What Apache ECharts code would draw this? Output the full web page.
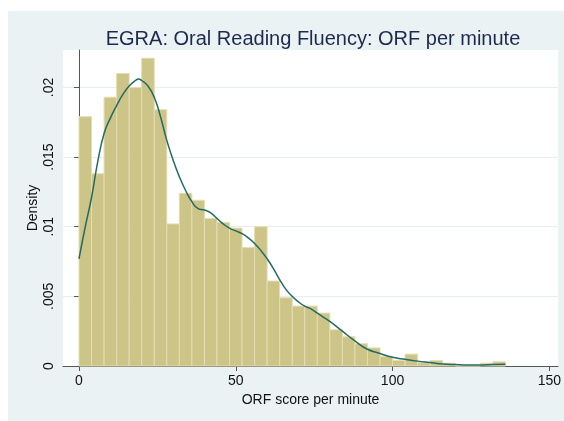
<!DOCTYPE html>
<html>
<head>
<meta charset="utf-8">
<style>
  html, body { margin: 0; padding: 0; background: #fff; }
  #chart { width: 564px; height: 421px; }
</style>
<script src="https://cdn.jsdelivr.net/npm/echarts@6/dist/echarts.min.js"></script>
</head>
<body>
<div id="chart"></div>
<script>
// histogram: bins of width 4 starting at 0
var binWidth = 4;
var binDensity = [0.0179, 0.0138, 0.0193, 0.0210, 0.0200, 0.0221, 0.0184, 0.0102, 0.0124, 0.0119,
  0.0106, 0.0103, 0.0099, 0.0085, 0.0100, 0.0061, 0.0049, 0.0043, 0.0043, 0.0038,
  0.0026, 0.0021, 0.0016, 0.0013, 0.0007, 0.0004, 0.00085, 0.00024, 0.0004, 0.0002,
  0, 0, 0.0002, 0.0003];

// kernel density curve
var kdX = [0, 2, 4, 6, 8, 10, 12, 14, 16, 18, 19, 20, 22, 24, 26, 28, 30, 32, 34, 36, 38, 40,
  42, 44, 46, 48, 50, 52, 54, 56, 58, 60, 62, 64, 66, 68, 70, 72, 74, 76, 78, 80,
  84, 88, 92, 96, 100, 104, 108, 112, 116, 120, 124, 128, 132, 136];
var kdY = [0.0077, 0.0100, 0.0121, 0.0147, 0.0167, 0.0178, 0.0187, 0.0195, 0.0201, 0.0205, 0.0206, 0.0205,
  0.0201, 0.0193, 0.0179, 0.0162, 0.0148, 0.0136, 0.0126, 0.0118, 0.0113, 0.0112,
  0.0110, 0.0106, 0.0102, 0.0099, 0.0097, 0.0095, 0.0092, 0.0088, 0.0083, 0.0077,
  0.0070, 0.0062, 0.0055, 0.0050, 0.0046, 0.0043, 0.0041, 0.0038, 0.0035, 0.0032,
  0.0025, 0.0018, 0.0012, 0.0009, 0.00063, 0.00048, 0.00035, 0.00025, 0.00015, 0.0001,
  0.00007, 0.00007, 0.0001, 0.00012];

var xTicks = [0, 50, 100, 150];
var yTicks = [0, 0.005, 0.01, 0.015, 0.02];
var yTickLabels = ['0', '.005', '.01', '.015', '.02'];

var bars = binDensity.map(function (d, i) {
  return [i * binWidth, (i + 1) * binWidth, d];
});
var curve = kdX.map(function (x, i) { return [x, kdY[i]]; });

var font = 'Liberation Sans, Arial, sans-serif';
var myChart = echarts.init(document.getElementById('chart'));
var option = {
  backgroundColor: '#ffffff',
  animation: false,
  graphic: {
    elements: [{
      type: 'rect', z: -10, silent: true,
      shape: { x: 8, y: 11, width: 556, height: 410 },
      style: { fill: '#eaf2f3' }
    }]
  },
  title: {
    text: 'EGRA: Oral Reading Fluency: ORF per minute',
    left: 308,
    top: 24,
    textAlign: 'center',
    textStyle: { color: '#1c2a50', fontSize: 20, fontWeight: 'normal', fontFamily: font }
  },
  grid: {
    left: 63, right: 5, top: 50, bottom: 55,
    show: true, backgroundColor: '#ffffff', borderWidth: 0
  },
  xAxis: {
    type: 'value',
    min: -5.1,
    max: 152.8,
    name: 'ORF score per minute',
    nameLocation: 'middle',
    nameGap: 22,
    nameTextStyle: { color: '#111', fontSize: 14, fontFamily: font },
    axisLine: { show: true, onZero: false, lineStyle: { color: '#555', width: 1 } },
    axisTick: { show: true, length: 5, customValues: xTicks, lineStyle: { color: '#555' } },
    axisLabel: { customValues: xTicks, color: '#111', fontSize: 14, fontFamily: font, margin: 8 },
    splitLine: { show: false }
  },
  yAxis: {
    type: 'value',
    min: 0,
    max: 0.02269,
    name: 'Density',
    nameLocation: 'middle',
    nameRotate: 90,
    nameGap: 23,
    nameMoveOverlap: false,
    nameTextStyle: { color: '#111', fontSize: 14, fontFamily: font },
    axisLine: { show: true, lineStyle: { color: '#555', width: 1 } },
    axisTick: { show: true, length: 5, customValues: yTicks, lineStyle: { color: '#555' } },
    axisLabel: {
      customValues: yTicks, rotate: 90, color: '#111', fontSize: 14, fontFamily: font, margin: 7,
      formatter: function (v) {
        var i = yTicks.indexOf(v);
        return i >= 0 ? yTickLabels[i] : '';
      }
    },
    splitLine: { show: true, lineStyle: { color: '#e6eef0', width: 1 } }
  },
  series: [
    {
      name: 'hist',
      type: 'custom',
      data: bars,
      encode: { x: [0, 1], y: 2 },
      renderItem: function (params, api) {
        var p0 = api.coord([api.value(0), api.value(2)]);
        var p1 = api.coord([api.value(1), 0]);
        return {
          type: 'rect',
          shape: { x: p0[0], y: p0[1], width: p1[0] - p0[0], height: p1[1] - p0[1] },
          style: { fill: '#cdc488', stroke: '#e4ddb2', lineWidth: 1 }
        };
      }
    },
    {
      name: 'kdensity',
      type: 'line',
      data: curve,
      smooth: true,
      showSymbol: false,
      lineStyle: { color: '#236b64', width: 1.5 },
      z: 3
    }
  ]
};
myChart.setOption(option, true);
</script>
</body>
</html>
